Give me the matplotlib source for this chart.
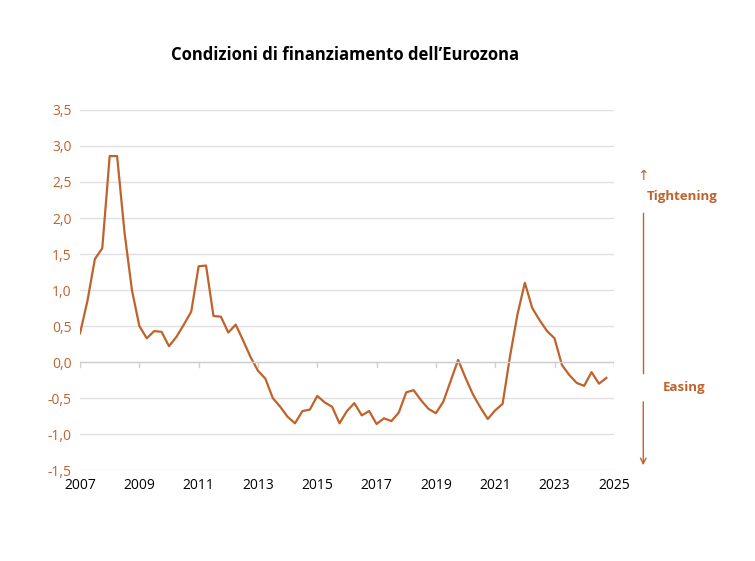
import numpy as np
import matplotlib.pyplot as plt

# Dati trimestrali 2007Q1 - 2024Q4
anni = np.arange(2007, 2025, 0.25)
valori = [0.40, 0.85, 1.43, 1.58, 2.86, 2.86, 1.80, 1.00,
          0.50, 0.33, 0.43, 0.42, 0.22, 0.35, 0.52, 0.70,
          1.33, 1.34, 0.64, 0.63, 0.41, 0.52, 0.30, 0.07,
          -0.12, -0.23, -0.50, -0.62, -0.76, -0.85, -0.68, -0.66,
          -0.47, -0.56, -0.62, -0.85, -0.68, -0.57, -0.74, -0.68,
          -0.86, -0.78, -0.82, -0.70, -0.42, -0.39, -0.53, -0.65,
          -0.71, -0.55, -0.26, 0.03, -0.22, -0.45, -0.63, -0.79,
          -0.67, -0.58, 0.08, 0.66, 1.10, 0.75, 0.58, 0.43,
          0.33, -0.04, -0.18, -0.29, -0.33, -0.14, -0.30, -0.22]
yticks = np.arange(-1.5, 3.51, 0.5)
xticks = np.arange(2007, 2026, 2)

colore = '#C0622B'
plt.rcParams['font.family'] = ['Open Sans', 'DejaVu Sans']

fig = plt.figure(figsize=(7.55, 5.61), dpi=100)
ax = fig.add_axes([0.106, 0.162, 0.707, 0.642])
ax.plot(anni, valori, color=colore, lw=1.6)
ax.set_xlim(2007, 2025)
ax.set_ylim(-1.5, 3.5)
ax.set_yticks(yticks)
ax.set_yticklabels([f'{v:.1f}'.replace('.', ',') for v in yticks], color=colore, fontsize=10)
ax.set_xticks(xticks)
ax.set_xticklabels([str(x) for x in xticks], fontsize=10)
ax.tick_params(length=0, pad=6)
ax.grid(axis='y', color='#e0e0e0', lw=1)
ax.axhline(0, color='#d0d0d0', lw=1)
for x in xticks:
    ax.plot([x, x], [0, -0.07], color='#d0d0d0', lw=1)
for s in ax.spines.values():
    s.set_visible(False)
ax.set_axisbelow(True)

fig.text(0.457, 0.902, 'Condizioni di finanziamento dell\u2019Eurozona',
         ha='center', va='center', fontsize=12, fontweight='bold')

# frecce
fig.add_artist(plt.Line2D([0.852, 0.852], [1 - 373/561, 1 - 213/561], color=colore, lw=1))
fig.text(0.852, 1 - 176/561, '\u2191', color=colore, ha='center', va='center', fontsize=10)
ax.annotate('', xy=(0.852, 1 - 468/561), xytext=(0.852, 1 - 399/561),
            xycoords='figure fraction', textcoords='figure fraction',
            arrowprops=dict(arrowstyle='->', color=colore, lw=1))
fig.text(0.904, 1 - 197/561, 'Tightening', color=colore, ha='center', va='center',
         fontsize=9.5, fontweight='bold')
fig.text(0.906, 1 - 387/561, 'Easing', color=colore, ha='center', va='center',
         fontsize=9.5, fontweight='bold')

fig.savefig('out.png', dpi=100)
